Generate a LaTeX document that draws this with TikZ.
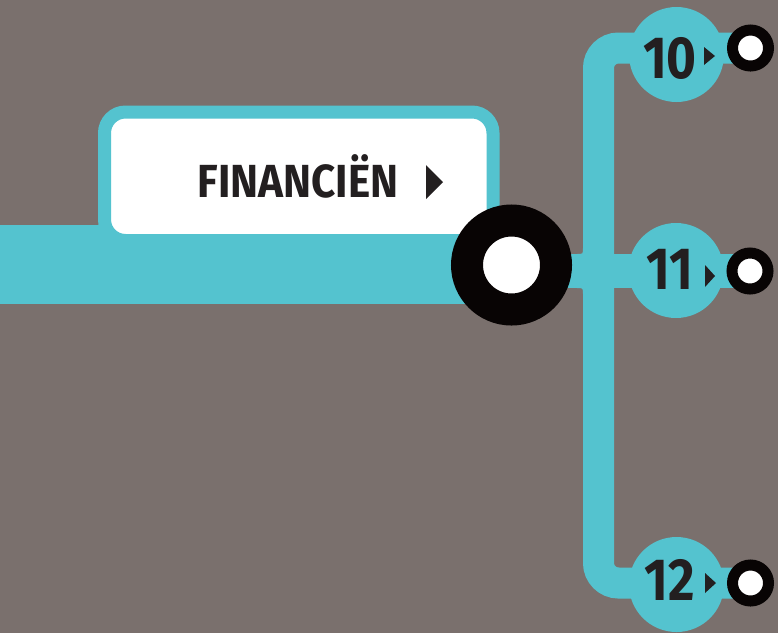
\documentclass[tikz,border=0pt]{standalone}
\usepackage{fontspec}
\setmainfont{Fira Sans}
\newfontfamily\condfont{Fira Sans}[FakeStretch=0.86]
\newfontfamily\labfont{Fira Sans}[FakeStretch=0.91]
\definecolor{bg}{HTML}{7A706D}
\definecolor{tealc}{HTML}{54C3CF}
\definecolor{ink}{HTML}{231F20}
\definecolor{ringblack}{HTML}{080404}
\pgfdeclarelayer{bgl}
\pgfdeclarelayer{connl}
\pgfsetlayers{bgl,connl,main}
\begin{document}
\begin{tikzpicture}[x=1pt,y=-1pt,
  conn/.style={draw=tealc, line cap=butt},
  labelbox/.style={draw=tealc, fill=white, line width=13pt, rounded corners=21pt,
     minimum width=388.5pt, minimum height=128.5pt, inner sep=0pt},
  hubring/.style={circle, draw=ringblack, fill=white, line width=32pt, minimum size=89pt, inner sep=0pt},
  endring/.style={circle, draw=ringblack, fill=white, line width=11pt, minimum size=36pt, inner sep=0pt},
  numdisc/.style={circle, fill=tealc, minimum size=95pt, inner sep=0pt},
  numtext/.style={inner sep=0pt, anchor=base, text=ink, font=\condfont\bfseries\fontsize{59.5}{60}\selectfont},
  labtext/.style={inner sep=0pt, anchor=base, text=ink, font=\labfont\bfseries\fontsize{46.4}{47}\selectfont},
  tri/.style={fill=ink},
  fillet/.style={fill=tealc}
]
\begin{pgfonlayer}{bgl}
\fill[bg] (0,0) rectangle (778,633);
\end{pgfonlayer}
\useasboundingbox (0,0) rectangle (778,633);

\coordinate (left) at (0,264.5);
\coordinate (tb) at (598.5,583);

% main bar (drawn before the label box)
\begin{pgfonlayer}{connl}
\draw[conn, line width=79pt] (left) -- (511.5,264.5);
\end{pgfonlayer}

% label box
\node[labelbox] (box) at (298.75,176.25) {};
\node[labtext] (fin) at (298,197) {FINANCIËN};
\fill[tri] (426,165) -- (426,199) -- (443,182) -- cycle;

% discs and rings
\node[numdisc] (c10) at (676.5,54.5) {};
\node[numdisc] (c11) at (676,270.5) {};
\node[numdisc] (c12) at (676.5,584.5) {};
\node[hubring] (hub) at (511.5,265) {};
\node[endring] (r10) at (750.5,48) {};
\node[endring] (r11) at (750,271) {};
\node[endring] (r12) at (750.5,583) {};

% branches
\begin{pgfonlayer}{connl}
\draw[conn, line width=31pt, rounded corners=20pt] (r10.center) -| (tb) -- (r12.center);
\draw[conn, line width=34pt] (r11.center -| hub.center) -- (r11.center);
\fill[fillet] (583,248) .. controls (583,254) .. (577,254) -- (583,254) -- cycle;
\fill[fillet] (583,294) .. controls (583,288) .. (577,288) -- (583,288) -- cycle;
\end{pgfonlayer}

% numbers
\node[numtext] (t10) at (670,78) {10};
\fill[tri] (704,47) -- (704,65) -- (715,56) -- cycle;
\node[numtext] (t11) at (669.5,289) {11};
\fill[tri] (705,265) -- (705,287) -- (715,276) -- cycle;
\node[numtext] (t12) at (670,600) {12};
\fill[tri] (705,573) -- (705,593) -- (716,583) -- cycle;
\end{tikzpicture}
\end{document}
